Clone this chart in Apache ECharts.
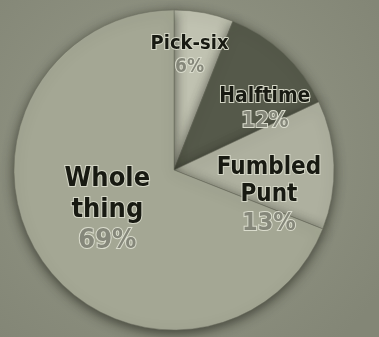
<!DOCTYPE html>
<html><head><meta charset="utf-8">
<script src="https://cdn.jsdelivr.net/npm/echarts@6/dist/echarts.min.js"></script>
<style>html,body{margin:0;padding:0;background:#8b8e7e;}#c{width:379px;height:337px;}</style>
</head><body><div id="c"></div>
<script>
const categories = ['Pick-six', 'Halftime', 'Fumbled\nPunt', 'Whole\nthing'];
const values = [6, 12, 13, 69];

const colors = ['#c0c2b1', '#55594a', '#aeb09f', '#a4a794'];
const offsets = [[0, -33], [34, 0], [12, 29], [2, -6]];
const nameSizes = [20, 21, 24, 27];
const pctSizes = [19, 22, 25, 27];
const FONT = '"DejaVu Sans Condensed", "DejaVu Sans", sans-serif';

const chart = echarts.init(document.getElementById('c'));
chart.setOption({
  backgroundColor: {
    type: 'radial', x: 0.45, y: 0.45, r: 0.75,
    colorStops: [{offset: 0, color: '#979a89'}, {offset: 1, color: '#838676'}]
  },
  animation: false,
  series: [{
    type: 'pie',
    center: [174, 170],
    radius: [0, 160],
    startAngle: 90,
    clockwise: true,
    label: {position: 'inside', align: 'center'},
    labelLine: {show: false},
    itemStyle: {
      borderColor: '#6a6d5f', borderWidth: 0.5,
      shadowBlur: 12, shadowColor: 'rgba(35,37,28,0.7)', shadowOffsetY: 3
    },
    data: categories.map((c, i) => ({
      name: c,
      value: values[i],
      itemStyle: {color: colors[i]},
      label: {
        offset: offsets[i],
        formatter: '{n|{b}}\n{p|{c}%}',
        rich: {
          n: {
            fontFamily: FONT,
            fontWeight: 'bold', fontSize: nameSizes[i], lineHeight: nameSizes[i] * 1.12,
            color: '#181a12', textBorderColor: '#d4d6c6', textBorderWidth: 2, align: 'center'
          },
          p: {
            fontFamily: FONT,
            fontWeight: 'bold', fontSize: pctSizes[i], lineHeight: pctSizes[i] * 1.2,
            color: '#85877a', textBorderColor: '#dadccd', textBorderWidth: 2, align: 'center'
          }
        }
      }
    }))
  }]
});
</script></body></html>
